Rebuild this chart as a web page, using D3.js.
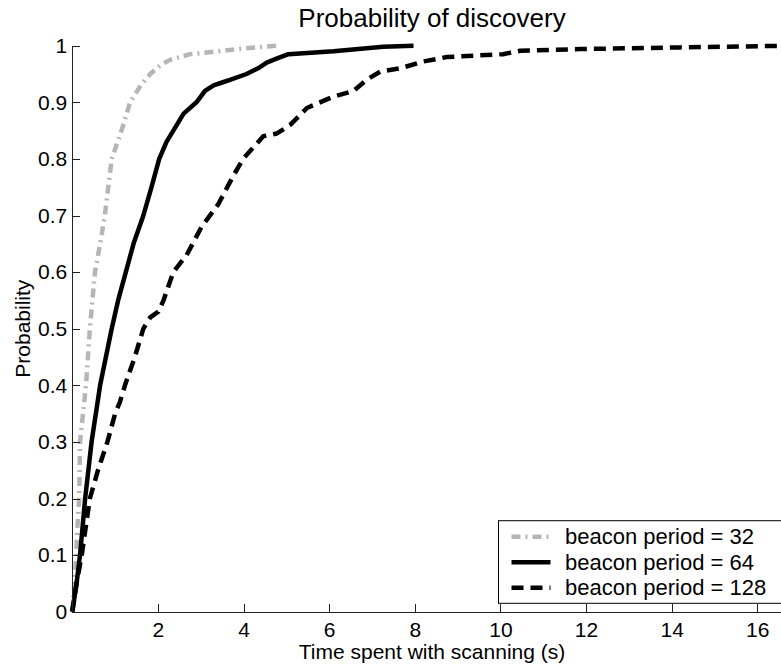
<!DOCTYPE html>
<html>
<head>
<meta charset="utf-8">
<script src="https://cdn.jsdelivr.net/npm/d3@7"></script>
<style>
  body { margin: 0; background: #fff; }
  svg { display: block; font-family: "Liberation Sans", Arial, sans-serif; }
</style>
</head>
<body>
<div id="chart"></div>
<script>
// Data: time (s) and cumulative probability per beacon period
const t32 = [0, 0.05, 0.09, 0.12, 0.16, 0.18, 0.25, 0.32, 0.41, 0.53, 0.65, 0.76, 0.92, 1.15, 1.35, 1.6, 1.82, 2.05, 2.28, 2.75, 3.37, 4.0, 4.8];
const p32 = [0, 0.05, 0.1, 0.15, 0.2, 0.3, 0.35, 0.4, 0.5, 0.6, 0.65, 0.7, 0.8, 0.85, 0.9, 0.93, 0.95, 0.965, 0.975, 0.985, 0.99, 0.995, 1.0];

const t64 = [0, 0.1, 0.18, 0.3, 0.45, 0.65, 0.92, 1.07, 1.25, 1.43, 1.66, 1.85, 2.03, 2.2, 2.36, 2.6, 2.9, 3.1, 3.3, 3.5, 3.7, 4.07, 4.34, 4.54, 4.8, 5.05, 6.1, 7.26, 7.97];
const p64 = [0, 0.05, 0.1, 0.2, 0.3, 0.4, 0.5, 0.55, 0.6, 0.65, 0.7, 0.75, 0.8, 0.83, 0.85, 0.88, 0.9, 0.92, 0.93, 0.935, 0.94, 0.95, 0.96, 0.97, 0.978, 0.985, 0.99, 0.998, 1.0];

const t128 = [0, 0.1, 0.22, 0.41, 0.6, 0.82, 1.0, 1.11, 1.23, 1.46, 1.66, 1.82, 2.01, 2.13, 2.36, 2.67, 3.02, 3.41, 3.76, 3.99, 4.46, 4.78, 5.09, 5.48, 6.1, 6.57, 6.88, 7.19, 7.66, 8.19, 8.75, 10.06, 10.46, 11.86, 14.2, 16.8];
const p128 = [0, 0.05, 0.1, 0.2, 0.25, 0.3, 0.35, 0.37, 0.4, 0.45, 0.5, 0.52, 0.53, 0.55, 0.6, 0.63, 0.68, 0.72, 0.77, 0.8, 0.84, 0.845, 0.86, 0.89, 0.91, 0.92, 0.94, 0.954, 0.96, 0.972, 0.98, 0.985, 0.991, 0.994, 0.997, 1.0];

const seriesNames = ["beacon period = 32", "beacon period = 64", "beacon period = 128"];
const xTicks = [2, 4, 6, 8, 10, 12, 14, 16];
const yTicks = [0, 0.1, 0.2, 0.3, 0.4, 0.5, 0.6, 0.7, 0.8, 0.9, 1];

const width = 781, height = 667;
const plotLeft = 72.3, plotTop = 45.7, plotBottom = 611.7, plotRight = 791.5;

const svg = d3.select("#chart").append("svg")
    .attr("width", width)
    .attr("height", height);

const x = d3.scaleLinear().domain([0, 16.8]).range([plotLeft, plotRight]);
const y = d3.scaleLinear().domain([0, 1]).range([plotBottom, plotTop]);

// Series styles (MATLAB-like)
const styles = [
    { color: "#b5b5b5", dash: "9,5,2,5" },
    { color: "#000", dash: null },
    { color: "#000", dash: "12,7" }
];
const series = [
    t32.map((t, i) => [t, p32[i]]),
    t64.map((t, i) => [t, p64[i]]),
    t128.map((t, i) => [t, p128[i]])
];

const line = d3.line().x(d => x(d[0])).y(d => y(d[1]));

series.forEach((s, i) => {
    svg.append("path")
        .datum(s)
        .attr("d", line)
        .attr("fill", "none")
        .attr("stroke", styles[i].color)
        .attr("stroke-width", 4.5)
        .attr("stroke-linejoin", "round")
        .attr("stroke-dasharray", styles[i].dash);
});

// Axes with inward ticks
const xAxis = svg.append("g")
    .attr("transform", `translate(0,${plotBottom})`)
    .call(d3.axisBottom(x).tickValues(xTicks).tickSizeInner(-7.5).tickSizeOuter(0).tickPadding(10).tickFormat(d3.format("d")));

const yAxis = svg.append("g")
    .attr("transform", `translate(${plotLeft},0)`)
    .call(d3.axisLeft(y).tickValues(yTicks).tickSizeInner(-7.5).tickSizeOuter(0).tickPadding(5).tickFormat(d => String(+d.toFixed(1))));

[xAxis, yAxis].forEach(g => {
    g.selectAll("path, line").attr("stroke", "#222").attr("shape-rendering", "crispEdges");
    g.selectAll("text").attr("fill", "#000").style("font-size", "21px")
        .style("font-family", "'Liberation Sans', Arial, sans-serif");
});

// Title and axis labels
svg.append("text")
    .attr("x", 432)
    .attr("y", 27)
    .attr("text-anchor", "middle")
    .style("font-size", "26px")
    .text("Probability of discovery");

svg.append("text")
    .attr("x", 432)
    .attr("y", 659)
    .attr("text-anchor", "middle")
    .style("font-size", "21px")
    .text("Time spent with scanning (s)");

svg.append("text")
    .attr("transform", `translate(30,${(plotTop + plotBottom) / 2}) rotate(-90)`)
    .attr("text-anchor", "middle")
    .style("font-size", "21px")
    .text("Probability");

// Legend
const legend = svg.append("g").attr("transform", "translate(498.5,520.7)");
legend.append("rect")
    .attr("width", 300)
    .attr("height", 82.6)
    .attr("fill", "#fff")
    .attr("stroke", "#000")
    .attr("stroke-width", 1);

seriesNames.forEach((name, i) => {
    const cy = 16 + i * 25.5;
    legend.append("line")
        .attr("x1", 13).attr("x2", 52)
        .attr("y1", cy).attr("y2", cy)
        .attr("stroke", styles[i].color)
        .attr("stroke-width", 4.5)
        .attr("stroke-dasharray", styles[i].dash);
    legend.append("text")
        .attr("x", 66.5)
        .attr("y", cy + 7.8)
        .style("font-size", "22px")
        .text(name);
});
</script>
</body>
</html>
